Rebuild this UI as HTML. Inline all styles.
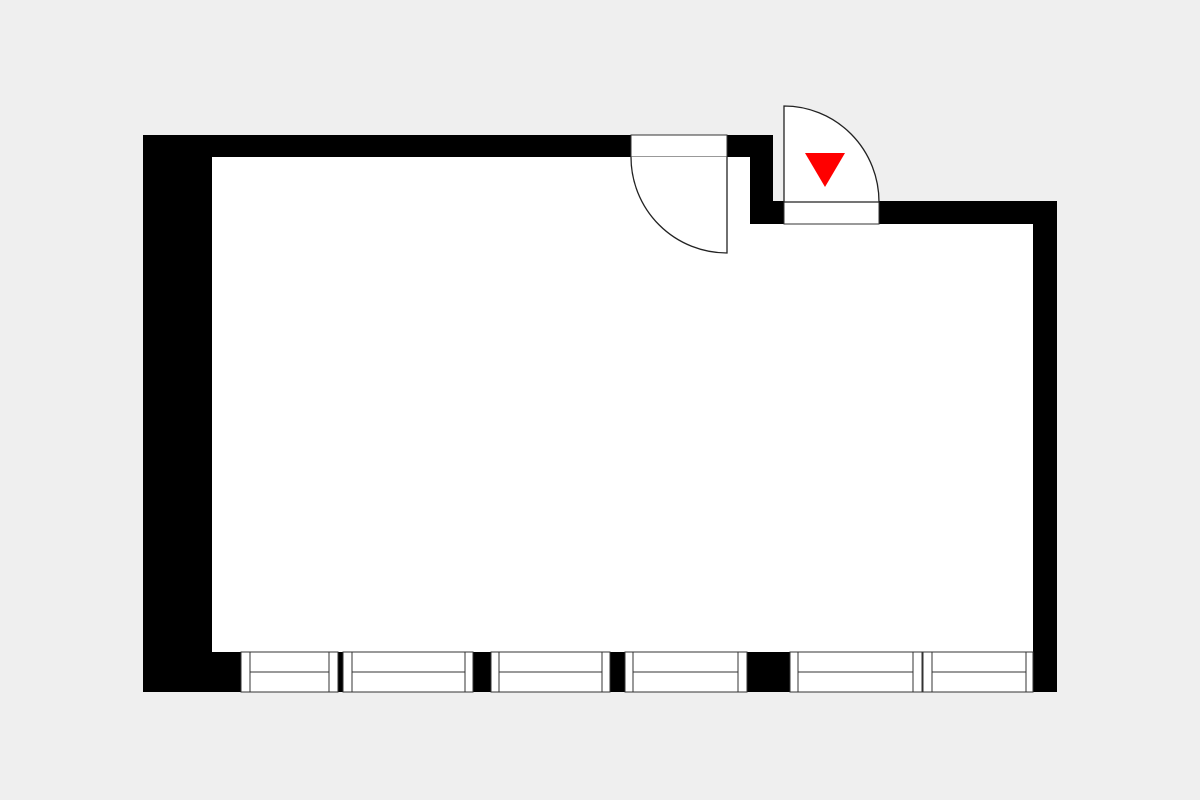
<!DOCTYPE html>
<html><head><style>
html,body{margin:0;padding:0;background:#efefef;}
svg{display:block;}
</style></head><body>
<svg width="1200" height="800" viewBox="0 0 1200 800" xmlns="http://www.w3.org/2000/svg">
<rect width="1200" height="800" fill="#efefef"/>
<!-- outer wall -->
<polygon points="143,135 773,135 773,201 1057,201 1057,692 143,692" fill="#000"/>
<!-- interior -->
<polygon points="212,157 750,157 750,224 1033,224 1033,652 212,652" fill="#fff"/>
<!-- door 1 opening -->
<rect x="631" y="135" width="96" height="22" fill="#fff" stroke="#333" stroke-width="1"/>
<path d="M631,157 A96,96 0 0 0 727,253 L727,157" fill="#fff" stroke="#222" stroke-width="1.3"/>
<!-- door 2 -->
<rect x="784" y="202" width="95" height="22" fill="#fff" stroke="#333" stroke-width="1"/>
<path d="M784,202 L784,106 A95,96 0 0 1 879,202 Z" fill="#fff" stroke="#222" stroke-width="1.3"/>
<polygon points="805,153 845,153 825,187" fill="#ff0000"/>
<!-- windows -->
<g fill="#fff" stroke="#333" stroke-width="1">
<g>
<rect x="241" y="652" width="97" height="40"/><line x1="250" y1="652" x2="250" y2="692"/><line x1="329" y1="652" x2="329" y2="692"/><line x1="250" y1="672" x2="329" y2="672"/>
</g>
<g>
<rect x="343" y="652" width="130" height="40"/><line x1="352" y1="652" x2="352" y2="692"/><line x1="465" y1="652" x2="465" y2="692"/><line x1="352" y1="672" x2="465" y2="672"/>
</g>
<g>
<rect x="491" y="652" width="119" height="40"/><line x1="499" y1="652" x2="499" y2="692"/><line x1="602" y1="652" x2="602" y2="692"/><line x1="499" y1="672" x2="602" y2="672"/>
</g>
<g>
<rect x="625" y="652" width="122" height="40"/><line x1="633" y1="652" x2="633" y2="692"/><line x1="738" y1="652" x2="738" y2="692"/><line x1="633" y1="672" x2="738" y2="672"/>
</g>
<g>
<rect x="790" y="652" width="132" height="40"/><line x1="798" y1="652" x2="798" y2="692"/><line x1="913" y1="652" x2="913" y2="692"/><line x1="798" y1="672" x2="913" y2="672"/>
</g>
<g>
<rect x="923" y="652" width="110" height="40"/><line x1="932" y1="652" x2="932" y2="692"/><line x1="1026" y1="652" x2="1026" y2="692"/><line x1="932" y1="672" x2="1026" y2="672"/>
</g>
</g>
</svg>
</body></html>
